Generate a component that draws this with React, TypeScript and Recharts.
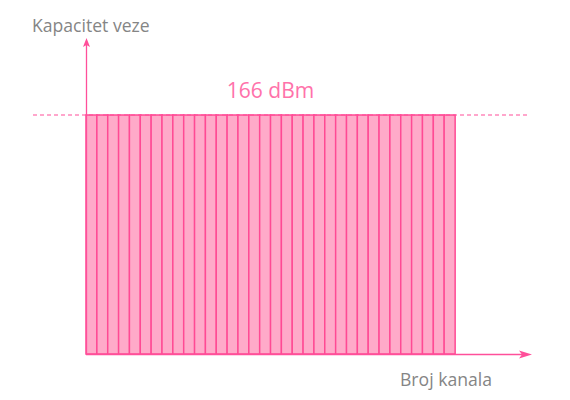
import { BarChart, Bar, XAxis, YAxis, ReferenceLine } from "recharts";

// 34 channels, each at the same link capacity
const channels: string[] = Array.from({ length: 34 }, (_, i) => `K${i + 1}`);
const capacity: number[] = channels.map(() => 166);
const capLabel = "166 dBm";
const yTitle = "Kapacitet veze";
const xTitle = "Broj kanala";

const data = channels.map((name, i) => ({ name, value: capacity[i] }));

const PINK = "#ff4f9a";
const FONT = "'Open Sans', sans-serif";

const Overlay = () => (
  <svg width={570} height={400} style={{ position: "absolute", left: 0, top: 0, pointerEvents: "none" }}>
    {/* dashed capacity line */}
    <line x1={33} y1={115} x2={528} y2={115} stroke={PINK} strokeWidth={1.2} strokeDasharray="4 3" />
    {/* y axis with arrow */}
    <line x1={86.5} y1={354} x2={86.5} y2={44} stroke={PINK} strokeWidth={1.3} />
    <polygon points="86.5,38 83,47 86.5,45 90,47" fill={PINK} />
    {/* x axis with arrow */}
    <line x1={86} y1={354.5} x2={525} y2={354.5} stroke={PINK} strokeWidth={1.3} />
    <polygon points="532,354.5 519,350.5 522,354.5 519,358.5" fill={PINK} />
    <text x={32} y={32} fontFamily={FONT} fontSize={17.6} fill="#858585">{yTitle}</text>
    <text x={400} y={386} fontFamily={FONT} fontSize={17.6} fill="#858585">{xTitle}</text>
  </svg>
);

const App = () => (
  <div style={{ position: "absolute", left: 0, top: 0, width: 570, height: 400 }}>
    <BarChart
      width={570}
      height={400}
      data={data}
      margin={{ top: 115, right: 115, bottom: 46, left: 86 }}
      barCategoryGap={0}
    >
      <XAxis dataKey="name" hide />
      <YAxis hide domain={[0, 166]} />
      <Bar dataKey="value" fill="#ffaac9" stroke="#ff4a94" strokeWidth={1.5} isAnimationActive={false} />
      <ReferenceLine
        y={166}
        stroke="none"
        label={{ value: capLabel, position: "top", offset: 17, fill: "#ff72aa", fontSize: 21, fontFamily: FONT }}
      />
    </BarChart>
    <Overlay />
  </div>
);

export default App;
